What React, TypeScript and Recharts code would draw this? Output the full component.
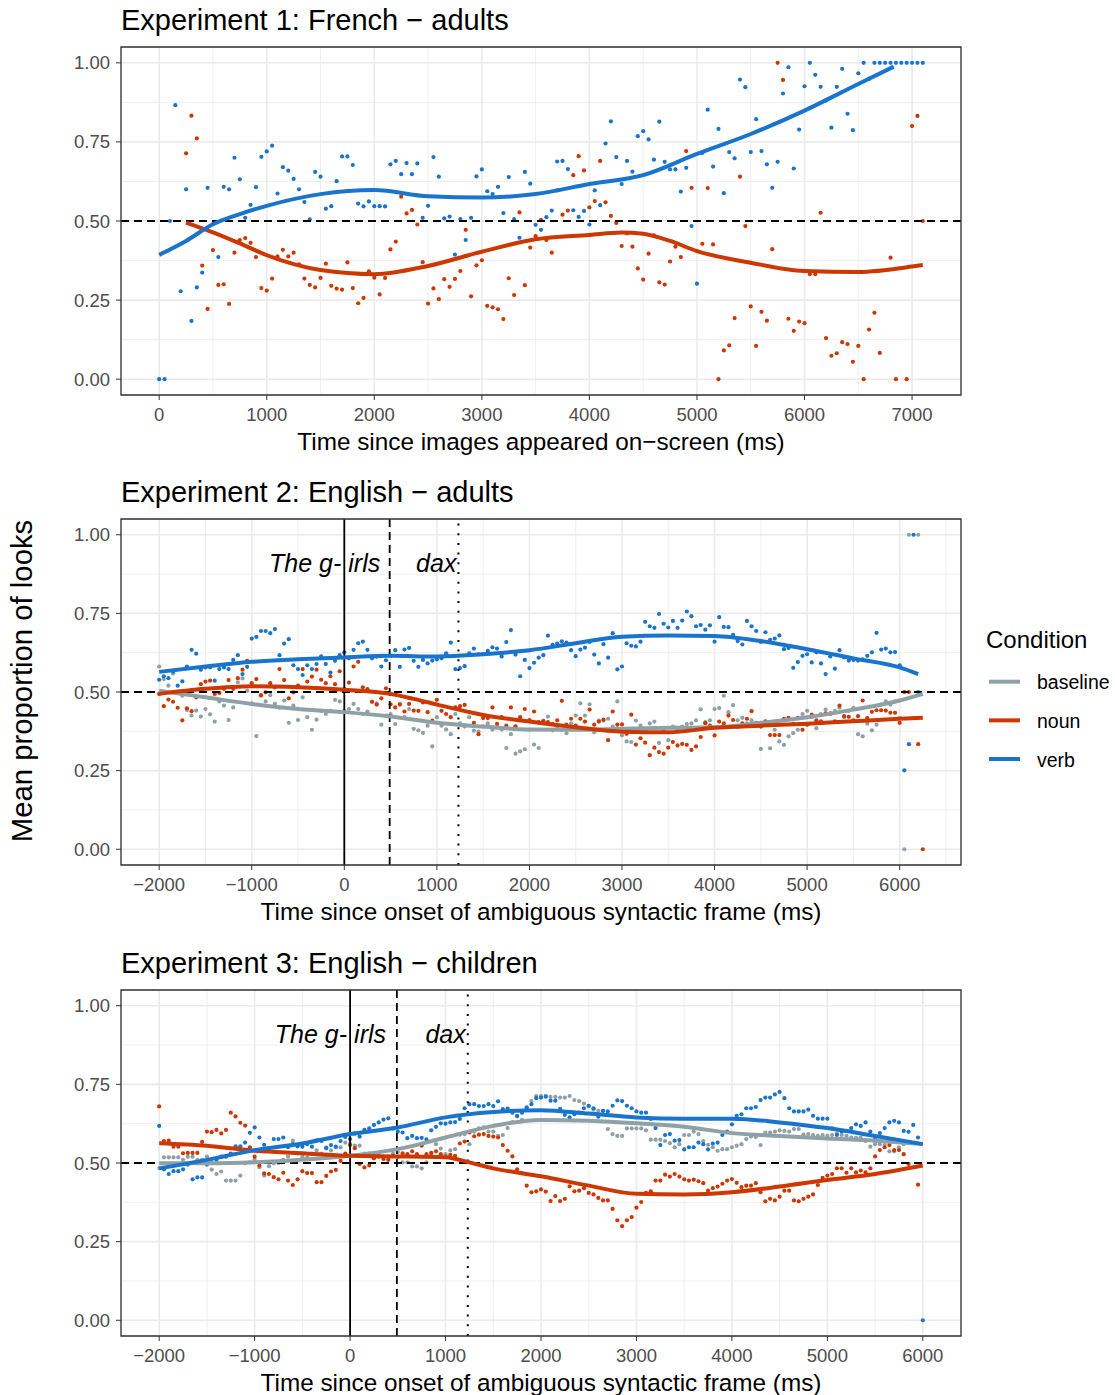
import React from 'react';
import {
  ComposedChart,
  Scatter,
  Line,
  XAxis,
  YAxis,
  CartesianGrid,
  ReferenceLine,
  ReferenceArea,
} from 'recharts';

const FONT = '"Liberation Sans", Arial, Helvetica, sans-serif';
const C_BASE = '#8FA0A6';
const C_NOUN = '#CD3700';
const C_VERB = '#1874CD';
const BIN = 50;

// ---------------- Experiment 1 (French adults) ----------------
const EXP1_VERB_START = 0;
const exp1Verb: (number | null)[] = [
  0.0, 0.0, 0.5, 0.866, 0.278, 0.6, 0.184, 0.29, 0.337, 0.605,
  0.49, 0.386, 0.608, 0.6, 0.7, 0.632, 0.51, 0.551, 0.607, 0.703,
  0.72, 0.738, 0.587, 0.67, 0.659, 0.633, 0.6, 0.56, 0.505, 0.655,
  0.64, 0.539, 0.547, 0.626, 0.704, 0.704, 0.677, 0.555, 0.546, 0.562,
  0.547, 0.547, 0.546, 0.679, 0.69, 0.648, 0.683, 0.648, 0.682, 0.51,
  0.548, 0.702, 0.64, 0.508, 0.514, 0.394, 0.506, 0.44, 0.51, 0.641,
  0.663, 0.594, 0.585, 0.608, 0.525, 0.639, 0.506, 0.447, 0.655, 0.618,
  0.488, 0.472, 0.512, 0.533, 0.688, 0.69, 0.664, 0.534, 0.513, 0.532,
  0.489, 0.597, 0.55, 0.745, 0.815, 0.702, 0.617, 0.69, 0.656, 0.768,
  0.784, 0.758, 0.694, 0.814, 0.687, 0.663, 0.663, 0.593, 0.668, 0.484,
  0.302, 0.715, 0.852, 0.672, 0.791, 0.588, 0.718, 0.698, 0.947, 0.923,
  0.718, 0.822, 0.721, 0.679, 0.605, 0.687, 0.903, 0.986, 0.666, 0.789,
  0.926, 1.0, 0.962, 0.924, 0.881, 0.795, 0.924, 0.981, 0.839, 0.787,
  0.967, 1.0, 0.95, 1, 1, 1, 1, 1, 1, 1,
  1, 1, 1,
];
const EXP1_NOUN_START = 250;
const exp1Noun: (number | null)[] = [
  0.714, 0.833, 0.761, 0.359, 0.222,
  0.408, 0.298, 0.3, 0.238, 0.4, 0.44, 0.446, 0.431, 0.386, 0.288,
  0.28, 0.318, 0.388, 0.409, 0.388, 0.4, 0.363, 0.318, 0.298, 0.29,
  0.32, 0.365, 0.295, 0.286, 0.283, 0.369, 0.288, 0.24, 0.257, 0.341,
  0.321, 0.268, 0.32, 0.41, 0.435, 0.577, 0.524, 0.535, 0.489, 0.37,
  0.239, 0.287, 0.253, 0.316, 0.292, 0.317, 0.342, 0.472, 0.262, 0.36,
  0.376, 0.232, 0.227, 0.221, 0.19, 0.319, 0.266, 0.527, 0.297, 0.416,
  0.452, 0.504, 0.44, 0.4, 0.597, 0.52, 0.533, 0.645, 0.705, 0.66,
  0.543, 0.563, 0.69, 0.559, 0.516, 0.494, 0.421, 0.461, 0.419, 0.35,
  0.315, 0.397, 0.455, 0.306, 0.299, 0.372, 0.419, 0.386, 0.721, 0.605,
  0.405, 0.428, 0.604, 0.426, 0.0, 0.091, 0.107, 0.193, 0.64, 0.484,
  0.23, 0.105, 0.213, 0.185, 0.411, 1.0, 0.946, 0.191, 0.153, 0.182,
  0.177, 0.332, 0.332, 0.526, 0.13, 0.074, 0.082, 0.117, 0.111, 0.055,
  0.105, 0.0, 0.157, 0.21, 0.083, null, 0.384, 0.0, null, 0.0,
  0.8, 0.832, 0.5,
];
const exp1VerbFitT = [0, 250, 500, 750, 1000, 1500, 2000, 2500, 3000, 3500, 4000, 4500, 5000, 5500, 6000, 6500, 6830];
const exp1VerbFitV = [0.393, 0.437, 0.49, 0.522, 0.548, 0.585, 0.598, 0.578, 0.574, 0.585, 0.617, 0.645, 0.712, 0.775, 0.849, 0.933, 0.988];
const exp1NounFitT = [250, 500, 750, 1000, 1500, 2000, 2500, 3000, 3500, 4000, 4300, 4500, 4750, 5000, 5500, 6000, 6500, 7000, 7100];
const exp1NounFitV = [0.495, 0.464, 0.429, 0.392, 0.345, 0.332, 0.358, 0.403, 0.442, 0.456, 0.464, 0.46, 0.437, 0.405, 0.368, 0.342, 0.339, 0.356, 0.361];

// ---------------- Experiment 2 (English adults) ----------------
const EXP2_START = -2000;
const exp2Verb: (number | null)[] = [
  0.539, 0.55, 0.544, 0.565, 0.52, 0.534, 0.581, 0.634, 0.622, 0.571,
  0.578, 0.578, 0.536, 0.573, 0.578, 0.573, 0.602, 0.617, 0.557, 0.58,
  0.67, 0.675, 0.694, 0.694, 0.687, 0.7, 0.617, 0.654, 0.668, 0.585,
  0.573, 0.554, 0.585, 0.573, 0.589, 0.613, 0.589, 0.562, 0.599, 0.617,
  0.626, 0.607, 0.634, 0.655, 0.66, 0.634, 0.607, 0.612, 0.581, 0.601,
  0.615, 0.633, 0.58, 0.635, 0.64, 0.599, 0.58, 0.602, 0.591, 0.6,
  0.604, 0.607, 0.623, 0.657, 0.573, 0.576, 0.582, 0.623, 0.638, 0.62,
  0.62, 0.631, 0.642, 0.638, 0.613, 0.659, 0.697, 0.619, 0.55, 0.602,
  0.576, 0.593, 0.609, 0.617, 0.679, 0.65, 0.654, 0.661, 0.657, 0.633,
  0.614, 0.635, 0.641, 0.659, 0.619, 0.591, 0.652, 0.609, 0.687, 0.572,
  0.581, 0.655, 0.647, 0.645, 0.66, 0.723, 0.709, 0.704, 0.748, 0.717,
  0.705, 0.726, 0.704, 0.727, 0.756, 0.741, 0.709, 0.713, 0.698, 0.712,
  0.66, 0.738, 0.707, 0.706, 0.682, 0.662, 0.651, 0.726, 0.709, 0.694,
  0.659, 0.69, 0.666, 0.67, 0.68, 0.636, 0.64, 0.577, 0.595, 0.615,
  0.62, 0.594, 0.626, 0.591, 0.557, 0.613, 0.574, 0.633, 0.61, 0.6,
  0.602, 0.6, 0.604, 0.615, 0.626, 0.688, 0.635, 0.638, 0.626, 0.627,
  0.585, 0.251, 0.334, 1.0, 0.5, null,
];
const exp2Noun: (number | null)[] = [
  0.494, 0.455, 0.476, 0.469, 0.45, 0.41, 0.448, 0.439, 0.483, 0.525,
  0.533, 0.536, 0.494, 0.497, 0.51, 0.538, 0.51, 0.544, 0.571, 0.599,
  0.528, 0.541, 0.49, 0.499, 0.528, 0.515, 0.573, 0.538, 0.48, 0.499,
  0.52, 0.573, 0.533, 0.549, 0.571, 0.539, 0.528, 0.55, 0.525, 0.566,
  0.51, 0.53, 0.581, 0.596, 0.515, 0.509, 0.469, 0.46, 0.48, 0.512,
  0.461, 0.451, 0.46, 0.438, 0.462, 0.441, 0.44, 0.467, 0.436, 0.409,
  0.475, 0.44, 0.43, 0.42, 0.451, 0.455, 0.459, 0.436, 0.402, 0.366,
  0.417, 0.417, 0.451, 0.399, 0.42, 0.393, 0.451, 0.391, 0.42, 0.446,
  0.411, 0.438, 0.404, 0.407, 0.404, 0.399, 0.41, 0.472, 0.396, 0.415,
  0.393, 0.415, 0.406, 0.444, 0.396, 0.406, 0.412, 0.347, 0.438, 0.396,
  0.397, 0.367, 0.428, 0.333, 0.353, 0.339, 0.299, 0.323, 0.309, 0.304,
  0.323, 0.341, 0.33, 0.335, 0.332, 0.316, 0.327, 0.357, 0.401, 0.393,
  0.362, 0.406, 0.4, 0.425, 0.411, 0.39, 0.4, 0.415, 0.439, 0.402,
  0.39, 0.407, 0.363, 0.363, 0.363, 0.415, 0.418, 0.399, 0.418, 0.38,
  0.396, 0.428, 0.41, 0.407, 0.432, 0.432, 0.407, 0.457, 0.423, 0.421,
  0.41, 0.423, 0.473, 0.417, 0.437, 0.442, 0.442, 0.441, 0.434, 0.434,
  0.402, 0.5, 0.5, null, 0.334, 0.0,
];
const exp2Base: (number | null)[] = [
  0.581, 0.541, 0.52, 0.559, 0.5, 0.488, 0.443, 0.425, 0.441, 0.422,
  0.446, 0.429, 0.406, 0.47, 0.457, 0.411, 0.451, 0.531, 0.543, 0.504,
  0.464, 0.36, 0.488, 0.47, 0.49, 0.462, 0.45, 0.473, 0.402, 0.457,
  0.411, 0.483, 0.42, 0.38, 0.412, 0.44, 0.43, 0.44, 0.475, 0.47,
  0.44, 0.446, 0.462, 0.446, 0.43, 0.438, 0.469, 0.464, 0.396, 0.425,
  0.43, 0.398, 0.462, 0.42, 0.446, 0.383, 0.378, 0.37, 0.393, 0.327,
  0.42, 0.393, 0.381, 0.366, 0.43, 0.4, 0.39, 0.42, 0.377, 0.374,
  0.39, 0.4, 0.38, 0.39, 0.381, 0.322, 0.366, 0.304, 0.311, 0.318,
  0.38, 0.333, 0.322, 0.409, 0.422, 0.378, 0.39, 0.38, 0.369, 0.4,
  0.425, 0.464, 0.425, 0.461, 0.372, 0.409, 0.409, 0.415, 0.39, 0.47,
  0.362, 0.343, 0.341, 0.409, 0.393, 0.38, 0.4, 0.406, 0.338, 0.38,
  0.347, 0.39, 0.38, 0.39, 0.398, 0.4, 0.41, 0.445, 0.404, 0.41,
  0.446, 0.449, 0.488, 0.436, 0.458, 0.41, 0.418, 0.4, 0.41, 0.402,
  0.319, 0.4, 0.321, 0.38, 0.343, 0.332, 0.359, 0.369, 0.38, 0.43,
  0.44, 0.42, 0.385, 0.43, 0.444, 0.43, 0.44, 0.45, 0.42, 0.44,
  0.45, 0.366, 0.359, 0.399, 0.378, 0.396, 0.46, 0.47, 0.46, 0.47,
  0.418, 0.0, 1.0, null, 1.0, null,
];
const exp2VerbFitT = [-2000, -1500, -1000, -500, 0, 500, 1000, 1500, 2000, 2500, 3000, 3500, 4000, 4500, 5000, 5500, 6000, 6200];
const exp2VerbFitV = [0.564, 0.581, 0.596, 0.604, 0.61, 0.615, 0.613, 0.62, 0.633, 0.655, 0.676, 0.68, 0.678, 0.662, 0.636, 0.607, 0.578, 0.557];
const exp2NounFitT = [-2000, -1500, -1000, -500, 0, 500, 750, 1000, 1500, 2000, 2500, 3000, 3500, 4000, 4500, 5000, 5500, 6000, 6250];
const exp2NounFitV = [0.494, 0.51, 0.518, 0.515, 0.507, 0.494, 0.478, 0.46, 0.427, 0.406, 0.388, 0.374, 0.372, 0.386, 0.393, 0.399, 0.407, 0.415, 0.418];
const exp2BaseFitT = [-2000, -1500, -1000, -500, 0, 500, 1000, 1500, 2000, 2500, 3000, 3500, 4000, 4500, 5000, 5500, 6000, 6250];
const exp2BaseFitV = [0.504, 0.483, 0.462, 0.446, 0.436, 0.422, 0.402, 0.39, 0.381, 0.38, 0.383, 0.386, 0.388, 0.402, 0.42, 0.444, 0.473, 0.494];

// ---------------- Experiment 3 (English children) ----------------
const EXP3_START = -2000;
const exp3Verb: (number | null)[] = [
  0.618, 0.48, 0.465, 0.474, 0.474, 0.48, 0.495, 0.448, 0.454, 0.454,
  0.495, 0.5, 0.51, 0.52, 0.52, 0.53, 0.553, 0.553, 0.565, 0.596,
  0.613, 0.581, 0.558, 0.54, 0.576, 0.576, 0.581, 0.55, 0.56, 0.553,
  0.552, 0.56, 0.552, 0.572, 0.57, 0.547, 0.557, 0.552, 0.57, 0.583,
  0.576, 0.594, 0.584, 0.605, 0.61, 0.621, 0.629, 0.638, 0.642, 0.61,
  0.6, 0.597, 0.579, 0.586, 0.579, 0.58, 0.575, 0.604, 0.615, 0.626,
  0.625, 0.629, 0.63, 0.64, 0.674, 0.687, 0.687, 0.681, 0.681, 0.687,
  0.681, 0.696, 0.671, 0.673, 0.66, 0.65, 0.66, 0.677, 0.687, 0.706,
  0.708, 0.711, 0.698, 0.698, 0.672, 0.653, 0.645, 0.655, 0.66, 0.674,
  0.682, 0.674, 0.647, 0.666, 0.664, 0.682, 0.699, 0.697, 0.682, 0.674,
  0.664, 0.66, 0.66, 0.64, 0.611, 0.557, 0.589, 0.592, 0.571, 0.573,
  0.543, 0.55, 0.55, 0.565, 0.56, 0.543, 0.562, 0.565, 0.589, 0.6,
  0.623, 0.65, 0.655, 0.674, 0.674, 0.678, 0.7, 0.708, 0.708, 0.718,
  0.726, 0.706, 0.674, 0.664, 0.664, 0.664, 0.67, 0.65, 0.641, 0.641,
  0.641, 0.61, 0.589, 0.6, 0.602, 0.611, 0.623, 0.618, 0.629, 0.6,
  0.58, 0.595, 0.611, 0.629, 0.634, 0.629, 0.602, 0.599, 0.621, 0.581,
  0.0,
];
const exp3Noun: (number | null)[] = [
  0.68, 0.57, 0.571, 0.552, 0.552, 0.531, 0.532, 0.532, 0.532, 0.567,
  0.6, 0.598, 0.605, 0.594, 0.605, 0.66, 0.648, 0.628, 0.619, 0.55,
  0.52, 0.492, 0.467, 0.465, 0.455, 0.448, 0.469, 0.444, 0.43, 0.448,
  0.474, 0.468, 0.468, 0.439, 0.439, 0.459, 0.473, 0.478, 0.507, 0.53,
  0.557, 0.547, 0.497, 0.486, 0.492, 0.515, 0.52, 0.513, 0.51, 0.523,
  0.52, 0.531, 0.528, 0.537, 0.528, 0.555, 0.528, 0.532, 0.537, 0.528,
  0.52, 0.526, 0.523, 0.562, 0.568, 0.597, 0.585, 0.59, 0.592, 0.586,
  0.584, 0.581, 0.557, 0.539, 0.521, 0.48, 0.468, 0.428, 0.407, 0.41,
  0.416, 0.409, 0.379, 0.395, 0.379, 0.386, 0.426, 0.41, 0.412, 0.42,
  0.405, 0.4, 0.389, 0.381, 0.381, 0.354, 0.318, 0.299, 0.318, 0.328,
  0.358, 0.376, 0.405, 0.41, 0.444, 0.444, 0.463, 0.457, 0.465, 0.457,
  0.448, 0.444, 0.447, 0.442, 0.436, 0.412, 0.42, 0.425, 0.434, 0.444,
  0.449, 0.437, 0.423, 0.428, 0.428, 0.436, 0.407, 0.378, 0.386, 0.381,
  0.393, 0.412, 0.412, 0.381, 0.378, 0.386, 0.393, 0.4, 0.43, 0.453,
  0.46, 0.465, 0.483, 0.483, 0.469, 0.483, 0.47, 0.476, 0.47, 0.483,
  0.521, 0.541, 0.55, 0.557, 0.541, 0.541, 0.528, 0.497, null, 0.431,
  null,
];
const exp3Base: (number | null)[] = [
  0.484, 0.518, 0.518, 0.518, 0.518, 0.51, 0.52, 0.52, 0.51, 0.51,
  0.52, 0.479, 0.465, 0.473, 0.444, 0.444, 0.444, 0.46, 0.499, 0.502,
  0.51, 0.486, 0.46, 0.49, 0.499, 0.5, 0.51, 0.52, 0.571, 0.53,
  0.52, 0.518, 0.53, 0.54, 0.53, 0.55, 0.54, 0.55, 0.55, 0.565,
  0.56, 0.555, 0.555, 0.53, 0.53, 0.52, 0.53, 0.52, 0.52, 0.53,
  0.535, 0.502, 0.502, 0.489, 0.489, 0.483, 0.502, 0.53, 0.56, 0.546,
  0.528, 0.54, 0.544, 0.59, 0.592, 0.56, 0.6, 0.61, 0.613, 0.6,
  0.6, 0.586, 0.589, 0.611, 0.63, 0.648, 0.637, 0.671, 0.697, 0.713,
  0.713, 0.713, 0.71, 0.71, 0.708, 0.708, 0.713, 0.7, 0.697, 0.689,
  0.68, 0.67, 0.666, 0.666, 0.608, 0.592, 0.586, 0.586, 0.61, 0.61,
  0.61, 0.61, 0.604, 0.574, 0.574, 0.574, 0.57, 0.563, 0.55, 0.56,
  0.589, 0.589, 0.6, 0.592, 0.57, 0.558, 0.55, 0.539, 0.544, 0.544,
  0.55, 0.555, 0.56, 0.576, 0.584, 0.583, 0.557, 0.597, 0.597, 0.6,
  0.604, 0.602, 0.6, 0.608, 0.608, 0.59, 0.592, 0.589, 0.586, 0.589,
  0.586, 0.589, 0.594, 0.589, 0.586, 0.581, 0.58, 0.58, 0.57, 0.552,
  0.56, 0.56, 0.557, 0.537, 0.537, 0.55, 0.56, null, null, null,
  null,
];
const exp3VerbFitT = [-2000, -1500, -1000, -500, 0, 500, 1000, 1500, 2000, 2500, 3000, 3500, 4000, 4500, 5000, 5500, 6000];
const exp3VerbFitV = [0.483, 0.51, 0.541, 0.562, 0.592, 0.613, 0.645, 0.662, 0.668, 0.657, 0.645, 0.641, 0.641, 0.629, 0.611, 0.586, 0.56];
const exp3NounFitT = [-2000, -1500, -1000, -500, 0, 500, 1000, 1250, 1500, 2000, 2500, 3000, 3500, 4000, 4500, 5000, 5500, 6000];
const exp3NounFitV = [0.563, 0.555, 0.539, 0.531, 0.523, 0.521, 0.518, 0.502, 0.483, 0.458, 0.428, 0.402, 0.4, 0.407, 0.425, 0.446, 0.465, 0.492];
const exp3BaseFitT = [-2000, -1500, -1000, -500, 0, 500, 1000, 1500, 2000, 2500, 3000, 3500, 4000, 4500, 5000, 5500, 6000];
const exp3BaseFitV = [0.499, 0.499, 0.502, 0.51, 0.523, 0.544, 0.581, 0.618, 0.637, 0.634, 0.626, 0.615, 0.595, 0.586, 0.578, 0.571, 0.56];

// word-onset markers (ms)
const WORD_ONSET = 0;
const GIRLS_OFFSET = 490;
const DAX_OFFSET = 1233;

// ticks
const Y_TICKS = [0, 0.25, 0.5, 0.75, 1];
const Y_MINOR = [0.125, 0.375, 0.625, 0.875];
const X1_TICKS = [0, 1000, 2000, 3000, 4000, 5000, 6000, 7000];
const X1_MINOR = [500, 1500, 2500, 3500, 4500, 5500, 6500];
const X2_TICKS = [-2000, -1000, 0, 1000, 2000, 3000, 4000, 5000, 6000];
const X2_MINOR = [-1500, -500, 500, 1500, 2500, 3500, 4500, 5500, 6500];
const X3_MINOR = [-1500, -500, 500, 1500, 2500, 3500, 4500, 5500];

const TITLE1 = 'Experiment 1: French \u2212 adults';
const TITLE2 = 'Experiment 2: English \u2212 adults';
const TITLE3 = 'Experiment 3: English \u2212 children';
const XLAB1 = 'Time since images appeared on\u2212screen (ms)';
const XLAB23 = 'Time since onset of ambiguous syntactic frame (ms)';
const YLAB = 'Mean proportion of looks';

const LEGEND = [
  { label: 'baseline', color: C_BASE },
  { label: 'noun', color: C_NOUN },
  { label: 'verb', color: C_VERB },
];

function toPoints(start: number, vals: (number | null)[]) {
  return vals
    .map((v, i) => ({ t: start + i * BIN, v }))
    .filter((p) => p.v !== null);
}
function toCurve(ts: number[], vs: number[]) {
  return ts.map((t, i) => ({ t, v: vs[i] }));
}

const fmtX = (v: number) => (v < 0 ? '\u2212' + Math.abs(v) : String(v));

const dotShape = (color: string) => (props: any) =>
  props.cx == null ? <g /> : <circle cx={props.cx} cy={props.cy} r={2.1} fill={color} />;

type Series = { key: string; color: string; pts: any[]; curve: any[] };

function Panel(props: {
  plotTop: number;
  plotH: number;
  xDomain: [number, number];
  xTicks: number[];
  xMinor: number[];
  xLabel: string;
  series: Series[];
  markers: boolean;
  annotY: number;
}) {
  const { plotTop, plotH, xDomain, xTicks, xMinor, xLabel, series, markers, annotY } = props;
  const mTop = 10;
  const axisH = 60;
  const width = 971;
  const height = mTop + plotH + axisH;
  const tickStyle = { fill: '#4D4D4D', fontSize: 18.5, fontFamily: FONT };
  const annotStyle: any = { fontFamily: FONT, fontSize: 25, fontStyle: 'italic', fill: '#000' };
  return (
    <div style={{ position: 'absolute', left: 0, top: plotTop - mTop }}>
      <ComposedChart width={width} height={height} margin={{ top: mTop, right: 10, bottom: 0, left: 0 }}>
        <CartesianGrid stroke="#EBEBEB" strokeWidth={1.6} />
        {xMinor.map((x) => (
          <ReferenceLine key={'mx' + x} x={x} stroke="#EBEBEB" strokeWidth={0.8} zIndex={-90} />
        ))}
        {Y_MINOR.map((y) => (
          <ReferenceLine key={'my' + y} y={y} stroke="#EBEBEB" strokeWidth={0.8} zIndex={-90} />
        ))}
        <XAxis
          type="number"
          dataKey="t"
          domain={xDomain}
          allowDataOverflow
          ticks={xTicks}
          tickFormatter={fmtX}
          tick={tickStyle}
          tickLine={{ stroke: '#333333', strokeWidth: 1 }}
          tickSize={5}
          tickMargin={8}
          axisLine={false}
          height={axisH}
          interval={0}
          label={{ value: xLabel, position: 'insideBottom', offset: 5, fill: '#000', fontSize: 24.3, fontFamily: FONT }}
        />
        <YAxis
          type="number"
          dataKey="v"
          domain={[-0.05, 1.05]}
          allowDataOverflow
          ticks={Y_TICKS}
          tickFormatter={(v: number) => v.toFixed(2)}
          tick={tickStyle}
          tickLine={{ stroke: '#333333', strokeWidth: 1 }}
          tickSize={5}
          tickMargin={6}
          axisLine={false}
          width={121}
          interval={0}
        />
        {series.map((s) => (
          <Scatter
            key={'sc' + s.key}
            data={s.pts}
            dataKey="v"
            fill={s.color}
            shape={dotShape(s.color)}
            isAnimationActive={false}
          />
        ))}
        <ReferenceLine y={0.5} stroke="#000" strokeWidth={1.8} strokeDasharray="8 5" zIndex={650} />
        {markers && (
          <ReferenceLine
            x={WORD_ONSET}
            stroke="#000"
            strokeWidth={1.8}
            zIndex={650}
            label={(p: any) => {
              const vb = p.viewBox || {};
              return (
                <g>
                  <text x={vb.x - 3} y={vb.y + annotY} textAnchor="end" style={annotStyle}>
                    The g-
                  </text>
                  <text x={vb.x + 4} y={vb.y + annotY} textAnchor="start" style={annotStyle}>
                    irls
                  </text>
                </g>
              );
            }}
          />
        )}
        {markers && (
          <ReferenceLine x={GIRLS_OFFSET} stroke="#000" strokeWidth={1.8} strokeDasharray="8 5" zIndex={650} />
        )}
        {markers && (
          <ReferenceLine
            x={DAX_OFFSET}
            stroke="#000"
            strokeWidth={2}
            strokeDasharray="2 7.7"
            zIndex={650}
            label={(p: any) => {
              const vb = p.viewBox || {};
              return (
                <text x={vb.x - 2} y={vb.y + annotY} textAnchor="end" style={annotStyle}>
                  dax
                </text>
              );
            }}
          />
        )}
        {series.map((s) => (
          <Line
            key={'ln' + s.key}
            data={s.curve}
            dataKey="v"
            type="monotone"
            stroke={s.color}
            strokeWidth={4}
            dot={false}
            activeDot={false}
            isAnimationActive={false}
            zIndex={700}
          />
        ))}
        <ReferenceArea
          x1={xDomain[0]}
          x2={xDomain[1]}
          y1={-0.05}
          y2={1.05}
          fill="none"
          fillOpacity={0}
          stroke="#333333"
          strokeWidth={1.3}
          ifOverflow="visible"
          zIndex={800}
        />
      </ComposedChart>
    </div>
  );
}

export default function App() {
  const s1: Series[] = [
    { key: 'noun', color: C_NOUN, pts: toPoints(EXP1_NOUN_START, exp1Noun), curve: toCurve(exp1NounFitT, exp1NounFitV) },
    { key: 'verb', color: C_VERB, pts: toPoints(EXP1_VERB_START, exp1Verb), curve: toCurve(exp1VerbFitT, exp1VerbFitV) },
  ];
  const s2: Series[] = [
    { key: 'base', color: C_BASE, pts: toPoints(EXP2_START, exp2Base), curve: toCurve(exp2BaseFitT, exp2BaseFitV) },
    { key: 'noun', color: C_NOUN, pts: toPoints(EXP2_START, exp2Noun), curve: toCurve(exp2NounFitT, exp2NounFitV) },
    { key: 'verb', color: C_VERB, pts: toPoints(EXP2_START, exp2Verb), curve: toCurve(exp2VerbFitT, exp2VerbFitV) },
  ];
  const s3: Series[] = [
    { key: 'base', color: C_BASE, pts: toPoints(EXP3_START, exp3Base), curve: toCurve(exp3BaseFitT, exp3BaseFitV) },
    { key: 'noun', color: C_NOUN, pts: toPoints(EXP3_START, exp3Noun), curve: toCurve(exp3NounFitT, exp3NounFitV) },
    { key: 'verb', color: C_VERB, pts: toPoints(EXP3_START, exp3Verb), curve: toCurve(exp3VerbFitT, exp3VerbFitV) },
  ];
  const titleStyle: any = { fontFamily: FONT, fontSize: 29, fill: '#000' };
  return (
    <div style={{ position: 'absolute', left: 0, top: 0, width: 1115, height: 1395, background: '#fff', overflow: 'hidden' }}>
      <Panel
        plotTop={47}
        plotH={348}
        xDomain={[-355, 7455]}
        xTicks={X1_TICKS}
        xMinor={X1_MINOR}
        xLabel={XLAB1}
        series={s1}
        markers={false}
        annotY={53}
      />
      <Panel
        plotTop={519}
        plotH={346}
        xDomain={[-2412.5, 6662.5]}
        xTicks={X2_TICKS}
        xMinor={X2_MINOR}
        xLabel={XLAB23}
        series={s2}
        markers={true}
        annotY={53}
      />
      <Panel
        plotTop={990}
        plotH={346}
        xDomain={[-2400, 6400]}
        xTicks={X2_TICKS}
        xMinor={X3_MINOR}
        xLabel={XLAB23}
        series={s3}
        markers={true}
        annotY={52.5}
      />
      <svg
        width={1115}
        height={1395}
        style={{ position: 'absolute', left: 0, top: 0, pointerEvents: 'none' }}
      >
        <text x={121} y={29.7} style={titleStyle}>{TITLE1}</text>
        <text x={121} y={501.7} style={titleStyle}>{TITLE2}</text>
        <text x={121} y={972.7} style={titleStyle}>{TITLE3}</text>
        <text
          x={32}
          y={681}
          transform="rotate(-90 32 681)"
          textAnchor="middle"
          style={{ fontFamily: FONT, fontSize: 29.3, fill: '#000' }}
        >
          {YLAB}
        </text>
        <text x={986} y={647.7} style={{ fontFamily: FONT, fontSize: 24, fill: '#000' }}>
          Condition
        </text>
        {LEGEND.map((l, i) => (
          <g key={l.label}>
            <line x1={989} x2={1020} y1={681.7 + i * 38.65} y2={681.7 + i * 38.65} stroke={l.color} strokeWidth={4} />
            <text x={1037} y={689 + i * 38.85} style={{ fontFamily: FONT, fontSize: 19.5, fill: '#000' }}>
              {l.label}
            </text>
          </g>
        ))}
      </svg>
    </div>
  );
}
